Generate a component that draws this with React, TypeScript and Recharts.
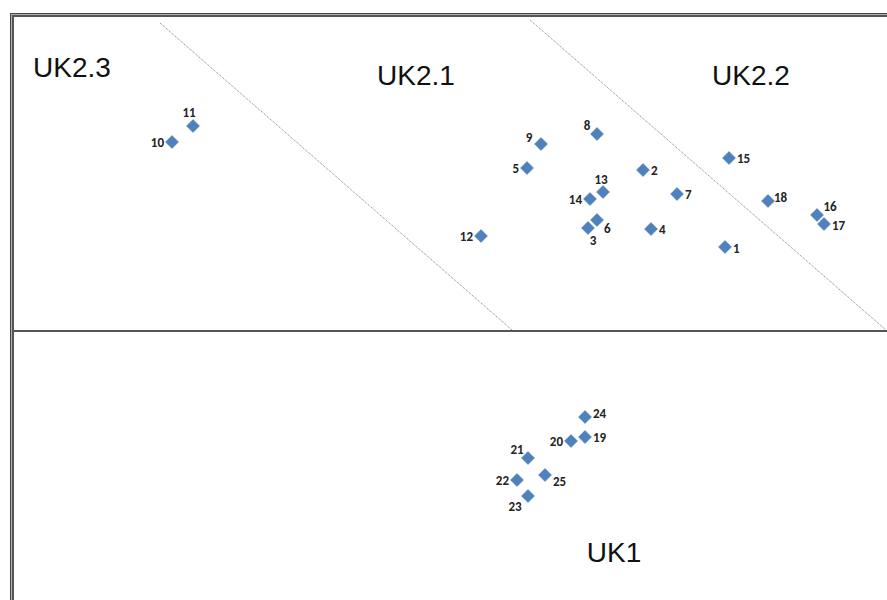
import React from "react";
import { ScatterChart, Scatter, XAxis, YAxis, ReferenceLine } from "recharts";

// Sample ids and coordinates (chart units)
const ids = [1, 2, 3, 4, 5, 6, 7, 8, 9, 10, 11, 12, 13, 14, 15, 16, 17, 18, 19, 20, 21, 22, 23, 24, 25];
const xs = [2.13, 1.31, 0.76, 1.39, 0.15, 0.85, 1.65, 0.85, 0.29, -3.40, -3.19, -0.31, 0.91, 0.78, 2.17, 3.05, 3.12, 2.56, 0.73, 0.59, 0.16, 0.05, 0.16, 0.73, 0.33];
const ys = [0.84, 1.61, 1.03, 1.02, 1.63, 1.11, 1.37, 1.97, 1.87, 1.89, 2.05, 0.95, 1.39, 1.32, 1.73, 1.16, 1.07, 1.30, -1.06, -1.10, -1.27, -1.49, -1.65, -0.86, -1.44];

// Region labels
const regionNames = ["UK2.3", "UK2.1", "UK2.2", "UK1"];
const regionX = [-4.40, -0.96, 2.39, 1.02];
const regionY = [2.64, 2.56, 2.56, -2.21];

// Divider lines (chart units)
const divider1 = [{ x: -3.52, y: 3.08 }, { x: 0.0, y: 0.01 }];
const divider2 = [{ x: 0.18, y: 3.11 }, { x: 3.74, y: 0.01 }];
const axisSegment = [{ x: -5.0, y: 0 }, { x: 3.75, y: 0 }];

// label placement styles: [dx, dy, anchor]
const labelPlace: Record<number, [number, number, string]> = {
  1: [8, 1, "start"], 2: [8, 0, "start"], 3: [5, 12, "middle"], 4: [8, 0, "start"],
  5: [-8, 0, "end"], 6: [7, 8, "start"], 7: [8, 0, "start"], 8: [-10, -9, "middle"],
  9: [-12, -7, "middle"], 10: [-8, 0, "end"], 11: [-4, -14, "middle"], 12: [-8, 0, "end"],
  13: [-2, -13, "middle"], 14: [-8, 0, "end"], 15: [8, 0, "start"], 16: [13, -9, "middle"],
  17: [8, 1, "start"], 18: [6, -4, "start"], 19: [8, 0, "start"], 20: [-8, 0, "end"],
  21: [-11, -9, "middle"], 22: [-8, 0, "end"], 23: [-13, 10, "middle"], 24: [8, -4, "start"],
  25: [8, 6, "start"],
};

const points = ids.map((id, i) => ({ id, x: xs[i], y: ys[i] }));
const regions = regionNames.map((name, i) => ({ name, x: regionX[i], y: regionY[i] }));

const DiamondShape = (props: any) => {
  const { cx, cy, payload } = props;
  const r = 6.5;
  const p = labelPlace[payload.id] || [8, 0, "start"];
  return (
    <g>
      <polygon
        points={`${cx},${cy - r} ${cx + r},${cy} ${cx},${cy + r} ${cx - r},${cy}`}
        fill="#4F81BD"
        stroke="#4A7AB5"
        strokeWidth={0.5}
      />
      <text
        x={cx + p[0]}
        y={cy + p[1]}
        textAnchor={p[2] as any}
        dominantBaseline="central"
        fontFamily="Carlito, 'Liberation Sans', Arial, sans-serif"
        fontWeight="bold"
        fontSize={13}
        fill="#222"
      >
        {payload.id}
      </text>
    </g>
  );
};

const RegionText = (props: any) => {
  const { cx, cy, payload } = props;
  return (
    <text
      x={cx}
      y={cy}
      textAnchor="middle"
      dominantBaseline="central"
      fontFamily="'Liberation Sans', Arial, sans-serif"
      fontSize={28}
      fill="#111"
    >
      {payload.name}
    </text>
  );
};

export default function App() {
  return (
    <div style={{ position: "absolute", left: 0, top: 0, width: 887, height: 600, background: "#fff", overflow: "hidden" }}>
      <div style={{ position: "absolute", left: 10, top: 13, right: 0, bottom: 0, borderTop: "1px solid #444", borderLeft: "1px solid #444" }}>
        <div style={{ position: "absolute", left: 0, top: 0, right: 0, bottom: 0, borderTop: "1px solid #b0b0b0", borderLeft: "1px solid #b0b0b0" }}>
          <div style={{ position: "absolute", left: 0, top: 0, right: 0, bottom: 0, borderTop: "2px solid #555", borderLeft: "2px solid #555" }} />
        </div>
      </div>
      <div style={{ position: "absolute", left: 0, top: 0 }}>
        <ScatterChart width={887} height={600} margin={{ top: 0, right: 0, bottom: 0, left: 0 }}>
          <XAxis type="number" dataKey="x" domain={[-5.12, 3.75]} allowDataOverflow hide />
          <YAxis type="number" dataKey="y" domain={[-2.69, 3.31]} allowDataOverflow hide />
          <ReferenceLine segment={divider1} stroke="#808080" strokeWidth={1} strokeDasharray="1 1" ifOverflow="visible" />
          <ReferenceLine segment={divider2} stroke="#808080" strokeWidth={1} strokeDasharray="1 1" ifOverflow="visible" />
          <ReferenceLine segment={axisSegment} stroke="#555" strokeWidth={2} ifOverflow="visible" />
          <Scatter data={regions} shape={RegionText} isAnimationActive={false} />
          <Scatter data={points} shape={DiamondShape} isAnimationActive={false} />
        </ScatterChart>
      </div>
    </div>
  );
}
